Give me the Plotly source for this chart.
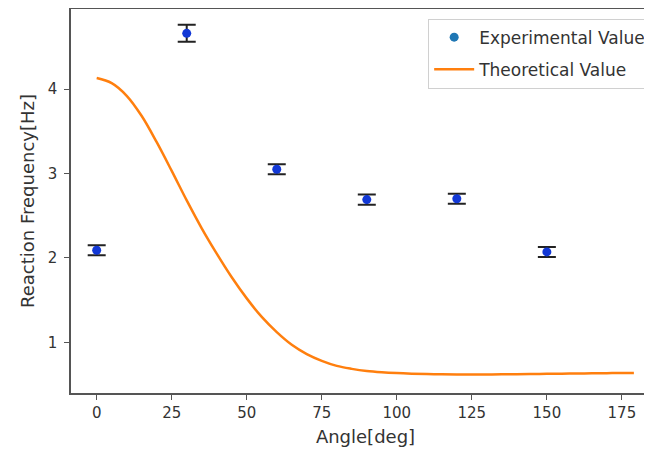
import plotly.graph_objects as go

# Experimental data
exp_angle = [0, 30, 60, 90, 120, 150]
exp_freq = [2.09, 4.66, 3.05, 2.69, 2.70, 2.07]
exp_err = [0.06, 0.10, 0.06, 0.06, 0.06, 0.06]

# Theoretical curve (every 5 degrees)
theo_angle = [0, 5, 10, 15, 20, 25, 30, 35, 40, 45, 50, 55, 60, 65, 70, 75, 80, 85, 90,
              95, 100, 105, 110, 115, 120, 125, 130, 135, 140, 145, 150, 155, 160, 165,
              170, 175, 179]
theo_freq = [4.13, 4.07, 3.92, 3.68, 3.37, 3.03, 2.68, 2.35, 2.05, 1.77, 1.52, 1.30, 1.12,
             0.97, 0.86, 0.78, 0.72, 0.685, 0.66, 0.645, 0.635, 0.628, 0.623, 0.62, 0.618,
             0.618, 0.619, 0.62, 0.622, 0.624, 0.626, 0.628, 0.63, 0.632, 0.634, 0.636, 0.637]

x_ticks = [0, 25, 50, 75, 100, 125, 150, 175]
y_ticks = [1, 2, 3, 4]

FONT = "DejaVu Sans"

fig = go.Figure()

fig.add_trace(go.Scatter(
    x=theo_angle, y=theo_freq, mode="lines", line=dict(color="#ff7f0e", width=2.5, shape="spline"),
    name="Theoretical Value", legendgroup="b", legendrank=2,
))

fig.add_trace(go.Scatter(
    x=exp_angle, y=exp_freq, mode="markers",
    marker=dict(color="#1238d6", size=9),
    error_y=dict(type="data", array=exp_err, visible=True, color="#222222", thickness=2, width=9),
    showlegend=False,
))

# legend entry
fig.add_trace(go.Scatter(
    x=[None], y=[None], mode="markers", marker=dict(color="#1f77b4", size=9),
    name="Experimental Value", legendgroup="a", legendrank=1,
))

fig.update_layout(
    width=652, height=450,
    margin=dict(l=63, r=0, t=1, b=65),
    paper_bgcolor="white", plot_bgcolor="white",
    font=dict(family=FONT, size=15, color="#333333"),
    legend=dict(
        x=0.985, y=0.975, xanchor="right", yanchor="top",
        bordercolor="#d0d0d0", borderwidth=1, bgcolor="white",
        tracegroupgap=7, itemwidth=40, font=dict(size=17, color="#333333"),
    ),
    xaxis=dict(
        range=[-8.56, 187.7], tickvals=x_ticks, ticktext=[str(t) for t in x_ticks],
        showgrid=False, zeroline=False, showline=True, linecolor="#555555", linewidth=1.5,
        mirror=True, ticks="outside", ticklen=5, tickcolor="#555555", automargin=False,
        title=dict(text="Angle[deg]", standoff=10),
    ),
    yaxis=dict(
        range=[0.399, 4.948], tickvals=y_ticks, ticktext=[str(t) for t in y_ticks],
        showgrid=False, zeroline=False, showline=True, linecolor="#555555", linewidth=1.5,
        ticks="outside", ticklen=5, tickcolor="#555555", automargin=False,
        ticklabelstandoff=4,
        title=dict(text="Reaction Frequency[Hz]", standoff=8),
    ),
)

fig.write_html("out.html")
